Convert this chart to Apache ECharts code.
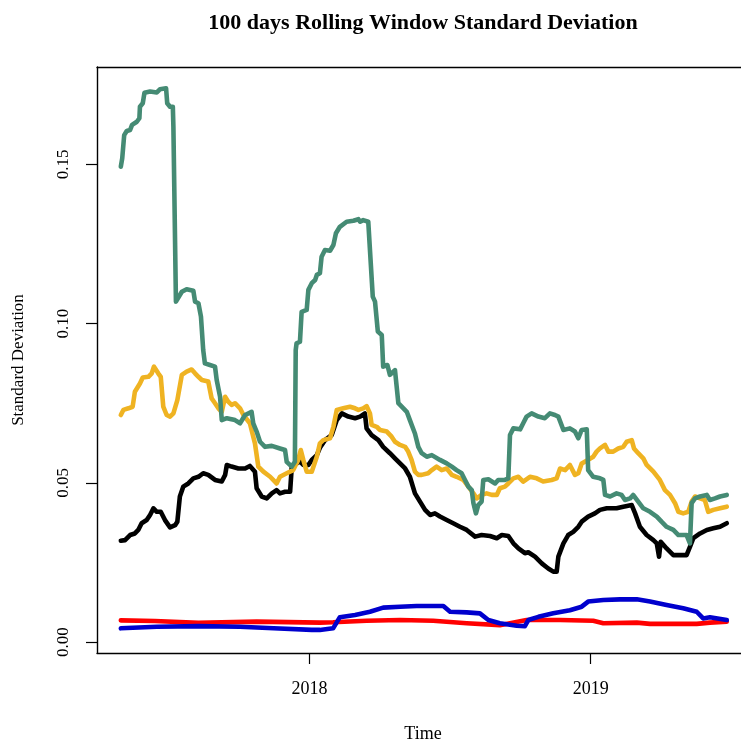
<!DOCTYPE html>
<html>
<head>
<meta charset="utf-8">
<script src="https://cdn.jsdelivr.net/npm/echarts@6/dist/echarts.min.js"></script>
<style>
  html, body { margin: 0; padding: 0; background: #fff; }
  #chart { width: 741px; height: 741px; }
</style>
</head>
<body>
<div id="chart"></div>
<script>
// decimal year, rolling 100-day standard deviation
const greenSeries = [
  [2017.329,0.1493],[2017.334,0.1519],[2017.341,0.1592],[2017.350,0.1605],[2017.362,0.1608],[2017.369,0.1624],
  [2017.386,0.1634],[2017.395,0.1645],[2017.397,0.1681],[2017.407,0.1692],[2017.413,0.1725],[2017.433,0.1729],
  [2017.457,0.1726],[2017.468,0.1736],[2017.490,0.1739],[2017.494,0.1692],[2017.504,0.1681],[2017.514,0.1681],
  [2017.516,0.1618],[2017.522,0.1613],[2017.525,0.1069],[2017.531,0.1074],[2017.546,0.1100],[2017.563,0.1108],
  [2017.587,0.1103],[2017.593,0.1069],[2017.605,0.1064],[2017.614,0.1022],[2017.622,0.0917],[2017.628,0.0875],
  [2017.646,0.0870],[2017.664,0.0865],[2017.670,0.0823],[2017.682,0.0770],[2017.688,0.0697],[2017.706,0.0703],
  [2017.735,0.0697],[2017.753,0.0687],[2017.771,0.0713],[2017.794,0.0723],[2017.800,0.0687],[2017.812,0.0661],
  [2017.824,0.0629],[2017.842,0.0613],[2017.866,0.0616],[2017.895,0.0608],[2017.913,0.0603],[2017.919,0.0566],
  [2017.937,0.0551],[2017.948,0.0566],[2017.951,0.0917],[2017.954,0.0938],[2017.966,0.0943],[2017.972,0.1037],
  [2017.990,0.1043],[2017.996,0.1106],[2018.008,0.1127],[2018.020,0.1137],[2018.026,0.1153],[2018.037,0.1158],
  [2018.043,0.1210],[2018.055,0.1231],[2018.073,0.1229],[2018.085,0.1247],[2018.094,0.1284],[2018.108,0.1304],
  [2018.132,0.1320],[2018.156,0.1323],[2018.174,0.1328],[2018.180,0.1320],[2018.191,0.1325],[2018.209,0.1320],
  [2018.215,0.1315],[2018.225,0.1085],[2018.233,0.1069],[2018.243,0.0975],[2018.257,0.0964],[2018.262,0.0865],
  [2018.277,0.0870],[2018.286,0.0839],[2018.304,0.0854],[2018.316,0.0750],[2018.334,0.0734],[2018.346,0.0723],
  [2018.357,0.0697],[2018.375,0.0655],[2018.387,0.0613],[2018.399,0.0593],[2018.417,0.0582],[2018.435,0.0587],
  [2018.464,0.0572],[2018.488,0.0561],[2018.506,0.0551],[2018.523,0.0540],[2018.541,0.0530],[2018.553,0.0509],
  [2018.565,0.0488],[2018.577,0.0477],[2018.583,0.0436],[2018.592,0.0404],[2018.600,0.0430],[2018.612,0.0441],
  [2018.618,0.0509],[2018.636,0.0511],[2018.660,0.0498],[2018.671,0.0509],[2018.695,0.0509],[2018.707,0.0514],
  [2018.713,0.0650],[2018.725,0.0671],[2018.749,0.0668],[2018.760,0.0687],[2018.772,0.0708],[2018.790,0.0718],
  [2018.814,0.0708],[2018.837,0.0703],[2018.855,0.0718],[2018.873,0.0713],[2018.885,0.0708],[2018.903,0.0666],
  [2018.926,0.0671],[2018.944,0.0661],[2018.956,0.0640],[2018.968,0.0666],[2018.986,0.0668],[2018.991,0.0540],
  [2019.009,0.0519],[2019.033,0.0514],[2019.045,0.0509],[2019.051,0.0462],[2019.069,0.0457],[2019.092,0.0467],
  [2019.110,0.0462],[2019.122,0.0446],[2019.140,0.0451],[2019.151,0.0462],[2019.169,0.0441],[2019.187,0.0420],
  [2019.211,0.0409],[2019.235,0.0394],[2019.252,0.0378],[2019.270,0.0362],[2019.294,0.0352],[2019.312,0.0336],
  [2019.341,0.0336],[2019.353,0.0310],[2019.359,0.0436],[2019.371,0.0451],[2019.389,0.0457],[2019.413,0.0462],
  [2019.424,0.0446],[2019.442,0.0451],[2019.460,0.0457],[2019.484,0.0462]
];

const yellowSeries = [
  [2017.329,0.0713],[2017.338,0.0729],[2017.356,0.0734],[2017.371,0.0739],[2017.379,0.0786],[2017.397,0.0812],
  [2017.407,0.0831],[2017.427,0.0833],[2017.439,0.0844],[2017.447,0.0865],[2017.462,0.0844],[2017.471,0.0833],
  [2017.480,0.0739],[2017.492,0.0713],[2017.504,0.0708],[2017.516,0.0718],[2017.530,0.0760],[2017.546,0.0839],
  [2017.563,0.0849],[2017.581,0.0856],[2017.593,0.0844],[2017.605,0.0833],[2017.617,0.0823],[2017.640,0.0818],
  [2017.652,0.0765],[2017.664,0.0750],[2017.676,0.0734],[2017.688,0.0723],[2017.700,0.0770],[2017.711,0.0755],
  [2017.723,0.0745],[2017.735,0.0750],[2017.753,0.0734],[2017.765,0.0713],[2017.788,0.0687],[2017.806,0.0624],
  [2017.818,0.0551],[2017.836,0.0535],[2017.860,0.0519],[2017.883,0.0498],[2017.895,0.0519],[2017.919,0.0530],
  [2017.942,0.0540],[2017.960,0.0572],[2017.969,0.0603],[2017.978,0.0572],[2017.990,0.0535],[2018.008,0.0535],
  [2018.026,0.0582],[2018.037,0.0624],[2018.049,0.0634],[2018.073,0.0640],[2018.085,0.0676],[2018.097,0.0729],
  [2018.120,0.0734],[2018.144,0.0739],[2018.162,0.0734],[2018.174,0.0729],[2018.191,0.0734],[2018.203,0.0741],
  [2018.215,0.0718],[2018.221,0.0682],[2018.239,0.0676],[2018.251,0.0666],[2018.275,0.0661],[2018.292,0.0645],
  [2018.304,0.0629],[2018.322,0.0619],[2018.340,0.0613],[2018.351,0.0598],[2018.363,0.0572],[2018.375,0.0535],
  [2018.387,0.0525],[2018.399,0.0525],[2018.422,0.0530],[2018.435,0.0540],[2018.452,0.0551],[2018.470,0.0540],
  [2018.488,0.0545],[2018.506,0.0525],[2018.523,0.0519],[2018.547,0.0509],[2018.565,0.0488],[2018.583,0.0467],
  [2018.595,0.0451],[2018.612,0.0462],[2018.630,0.0467],[2018.648,0.0462],[2018.666,0.0462],[2018.677,0.0483],
  [2018.695,0.0488],[2018.707,0.0498],[2018.725,0.0514],[2018.743,0.0519],[2018.760,0.0504],[2018.766,0.0498],
  [2018.784,0.0519],[2018.808,0.0514],[2018.831,0.0504],[2018.861,0.0509],[2018.879,0.0514],[2018.891,0.0545],
  [2018.909,0.0540],[2018.926,0.0556],[2018.944,0.0525],[2018.956,0.0530],[2018.968,0.0561],[2018.991,0.0572],
  [2019.009,0.0582],[2019.021,0.0598],[2019.033,0.0608],[2019.051,0.0619],[2019.063,0.0598],[2019.080,0.0598],
  [2019.098,0.0608],[2019.116,0.0613],[2019.128,0.0629],[2019.146,0.0634],[2019.154,0.0608],[2019.169,0.0593],
  [2019.187,0.0577],[2019.199,0.0556],[2019.223,0.0535],[2019.246,0.0509],[2019.264,0.0477],[2019.282,0.0462],
  [2019.300,0.0436],[2019.312,0.0409],[2019.329,0.0404],[2019.347,0.0409],[2019.359,0.0441],[2019.371,0.0457],
  [2019.389,0.0451],[2019.406,0.0446],[2019.418,0.0409],[2019.436,0.0415],[2019.460,0.0420],[2019.484,0.0425]
];

const blackSeries = [
  [2017.329,0.0318],[2017.344,0.0320],[2017.362,0.0336],[2017.379,0.0341],[2017.391,0.0352],[2017.403,0.0373],
  [2017.421,0.0383],[2017.433,0.0399],[2017.445,0.0420],[2017.457,0.0409],[2017.471,0.0409],[2017.486,0.0383],
  [2017.504,0.0360],[2017.522,0.0367],[2017.530,0.0378],[2017.539,0.0457],[2017.551,0.0488],[2017.569,0.0498],
  [2017.587,0.0514],[2017.605,0.0519],[2017.622,0.0530],[2017.640,0.0525],[2017.664,0.0509],[2017.688,0.0504],
  [2017.700,0.0525],[2017.706,0.0556],[2017.723,0.0551],[2017.747,0.0545],[2017.771,0.0545],[2017.788,0.0553],
  [2017.806,0.0535],[2017.812,0.0483],[2017.830,0.0457],[2017.848,0.0451],[2017.866,0.0467],[2017.883,0.0477],
  [2017.895,0.0467],[2017.913,0.0472],[2017.931,0.0472],[2017.937,0.0551],[2017.954,0.0561],[2017.966,0.0567],
  [2017.978,0.0556],[2017.996,0.0556],[2018.008,0.0572],[2018.026,0.0587],[2018.037,0.0610],[2018.055,0.0634],
  [2018.079,0.0650],[2018.097,0.0697],[2018.115,0.0718],[2018.138,0.0708],[2018.162,0.0703],[2018.180,0.0708],
  [2018.197,0.0718],[2018.203,0.0671],[2018.221,0.0650],[2018.245,0.0634],[2018.262,0.0613],[2018.286,0.0593],
  [2018.304,0.0577],[2018.322,0.0561],[2018.340,0.0545],[2018.357,0.0519],[2018.375,0.0467],[2018.393,0.0441],
  [2018.411,0.0415],[2018.429,0.0399],[2018.446,0.0404],[2018.464,0.0394],[2018.488,0.0383],[2018.511,0.0373],
  [2018.535,0.0362],[2018.559,0.0352],[2018.589,0.0331],[2018.612,0.0336],[2018.642,0.0333],[2018.666,0.0326],
  [2018.684,0.0336],[2018.707,0.0333],[2018.725,0.0310],[2018.743,0.0294],[2018.766,0.0279],[2018.778,0.0282],
  [2018.802,0.0268],[2018.826,0.0247],[2018.849,0.0231],[2018.867,0.0221],[2018.879,0.0221],[2018.885,0.0268],
  [2018.903,0.0310],[2018.920,0.0336],[2018.938,0.0346],[2018.956,0.0362],[2018.968,0.0378],[2018.991,0.0394],
  [2019.015,0.0404],[2019.033,0.0415],[2019.057,0.0420],[2019.092,0.0420],[2019.116,0.0425],[2019.146,0.0430],
  [2019.158,0.0404],[2019.175,0.0362],[2019.199,0.0336],[2019.223,0.0320],[2019.235,0.0310],[2019.243,0.0268],
  [2019.249,0.0315],[2019.270,0.0294],[2019.294,0.0273],[2019.318,0.0273],[2019.341,0.0273],[2019.353,0.0299],
  [2019.365,0.0326],[2019.389,0.0341],[2019.413,0.0352],[2019.436,0.0357],[2019.460,0.0362],[2019.484,0.0373]
];

const redSeries = [
  [2017.329,0.0068],[2017.450,0.0066],[2017.605,0.0060],[2017.812,0.0064],[2018.037,0.0061],[2018.084,0.0062],
  [2018.203,0.0067],[2018.322,0.0069],[2018.440,0.0067],[2018.559,0.0059],[2018.677,0.0053],[2018.713,0.0059],
  [2018.772,0.0069],[2018.891,0.0069],[2019.009,0.0067],[2019.045,0.0059],[2019.164,0.0061],[2019.211,0.0057],
  [2019.377,0.0057],[2019.424,0.0061],[2019.484,0.0064]
];

const blueSeries = [
  [2017.329,0.0043],[2017.457,0.0048],[2017.605,0.0050],[2017.753,0.0048],[2017.872,0.0043],[2018.008,0.0038],
  [2018.037,0.0038],[2018.084,0.0043],[2018.108,0.0078],[2018.162,0.0085],[2018.215,0.0095],[2018.262,0.0108],
  [2018.322,0.0111],[2018.381,0.0113],[2018.476,0.0113],[2018.500,0.0095],[2018.559,0.0093],[2018.606,0.0090],
  [2018.636,0.0069],[2018.677,0.0059],[2018.737,0.0051],[2018.766,0.0050],[2018.778,0.0069],[2018.814,0.0079],
  [2018.867,0.0090],[2018.926,0.0100],[2018.968,0.0111],[2018.991,0.0127],[2019.045,0.0132],[2019.104,0.0134],
  [2019.164,0.0134],[2019.211,0.0127],[2019.270,0.0116],[2019.329,0.0106],[2019.377,0.0095],[2019.400,0.0074],
  [2019.424,0.0078],[2019.484,0.0069]
];

const xTicks = [2018, 2019];
const yTicks = [0, 0.05, 0.1, 0.15];
const xRange = [2017.2443, 2019.563];

const serif = '"Liberation Serif", "DejaVu Serif", serif';
const boxLine = { show: true, onZero: false, lineStyle: { color: '#000', width: 1.4 } };

const chart = echarts.init(document.getElementById('chart'));

const makeLine = (data, color) => ({
    type: 'line',
    data: data,
    showSymbol: false,
    silent: true,
    lineStyle: { color: color, width: 4.6, cap: 'round', join: 'round' },
    itemStyle: { color: color }
});

chart.setOption({
    animation: false,
    backgroundColor: '#fff',
    title: {
        text: '100 days Rolling Window Standard Deviation',
        left: 418,
        top: 7,
        textAlign: 'center',
        textStyle: { fontFamily: serif, fontSize: 22, fontWeight: 'bold', color: '#000' }
    },
    grid: {
        left: 97, top: 67, width: 652, height: 586,
        outerBoundsMode: 'none',
        show: false
    },
    xAxis: [{
        type: 'value',
        position: 'bottom',
        min: xRange[0],
        max: xRange[1],
        name: 'Time',
        nameLocation: 'middle',
        nameGap: 72,
        nameTextStyle: { fontFamily: serif, fontSize: 18, color: '#000' },
        axisLine: boxLine,
        splitLine: { show: false },
        axisTick: { show: true, inside: false, length: 11, customValues: xTicks, lineStyle: { color: '#000', width: 1.2 } },
        axisLabel: { customValues: xTicks, margin: 27, fontFamily: serif, fontSize: 18, color: '#000', formatter: v => String(v) }
    }, {
        // top edge of the box
        type: 'value',
        position: 'top',
        min: xRange[0],
        max: xRange[1],
        axisLine: boxLine,
        axisTick: { show: false },
        axisLabel: { show: false },
        splitLine: { show: false }
    }],
    yAxis: {
        type: 'value',
        min: -0.00345,
        max: 0.1806,
        name: 'Standard Deviation',
        nameLocation: 'middle',
        nameRotate: 90,
        nameGap: 70,
        nameTextStyle: { fontFamily: serif, fontSize: 17, color: '#000' },
        axisLine: boxLine,
        splitLine: { show: false },
        axisTick: { show: true, inside: false, length: 11, customValues: yTicks, lineStyle: { color: '#000', width: 1.2 } },
        axisLabel: { customValues: yTicks, rotate: 90, margin: 25, fontFamily: serif, fontSize: 17, color: '#000', formatter: v => v.toFixed(2) }
    },
    series: [
        makeLine(blackSeries, '#000000'),
        makeLine(yellowSeries, '#EFB322'),
        makeLine(greenSeries, '#458B74'),
        makeLine(redSeries, '#FF0000'),
        makeLine(blueSeries, '#0000CD')
    ]
});

window.addEventListener('resize', () => chart.resize());
</script>
</body>
</html>
